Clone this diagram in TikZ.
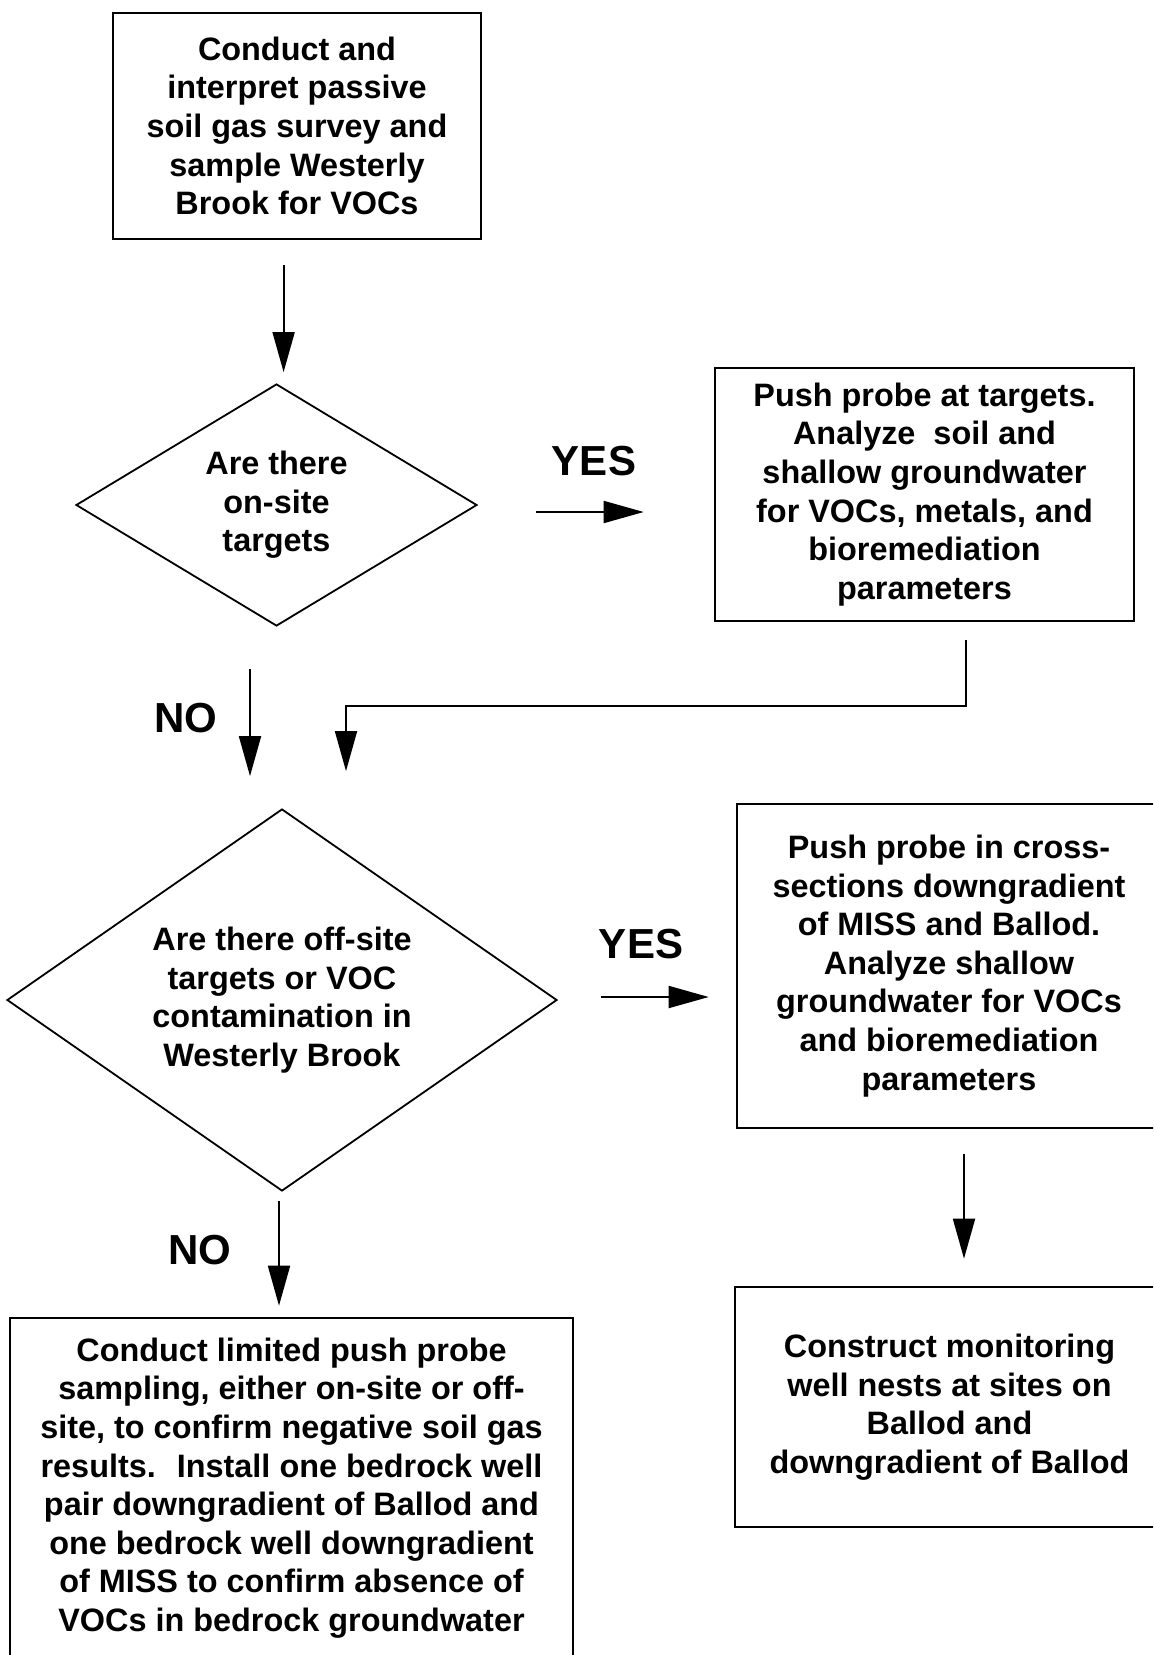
\documentclass[tikz,border=0pt]{standalone}
\usepackage{fontspec}
\setmainfont{Liberation Sans}
\usetikzlibrary{shapes.geometric,arrows.meta}
\newcommand{\bodyfnt}{\fontsize{16.2pt}{19.3pt}\selectfont\bfseries}
\newcommand{\lblfnt}{\fontsize{21pt}{24pt}\selectfont\bfseries}
\tikzset{
  stepbox/.style={draw, line width=1.3pt, align=center, inner sep=0pt, font=\bodyfnt},
  decide/.style={draw, diamond, line width=0.9pt, align=center, inner sep=0pt, font=\bodyfnt},
  arr/.style={line width=0.9pt, -{Triangle[length=20pt,width=11pt]}},
  lbl/.style={font=\lblfnt, inner sep=0pt}
}
\begin{document}
\begin{tikzpicture}[x=0.5pt,y=-0.5pt]
\useasboundingbox (0,0) rectangle (1153,1655);
\clip (0,0) rectangle (1153,1655);
\fill[white] (0,0) rectangle (1153,1655);

\node[stepbox, minimum width=184pt, minimum height=113pt] (b1) at (297,126)
  {Conduct and\\interpret passive\\soil gas survey and\\sample Westerly\\Brook for VOCs};

\node[decide, minimum width=200.5pt, minimum height=121pt, aspect=1.65] (d1) at (276.5,505)
  {Are there\\on-site\\targets};

\node[stepbox, minimum width=209.5pt, minimum height=126.5pt] (b2) at (924.5,494.5)
  {Push probe at targets.\\Analyze~ soil and\\shallow groundwater\\for VOCs, metals, and\\bioremediation\\parameters};

\node[decide, minimum width=275pt, minimum height=191pt, aspect=1.44] (d2) at (282,1000)
  {Are there off-site\\targets or VOC\\contamination in\\Westerly Brook};

\node[stepbox, minimum width=212pt, minimum height=162pt] (b3) at (949,966)
  {Push probe in cross-\\sections downgradient\\of MISS and Ballod.\\Analyze shallow\\groundwater for VOCs\\and bioremediation\\parameters};

\node[stepbox, minimum width=214.5pt, minimum height=120pt] (b4) at (949.5,1407)
  {Construct monitoring\\well nests at sites on\\Ballod and\\downgradient of Ballod};

\node[stepbox, minimum width=281.5pt, minimum height=170pt] (b5) at (291.5,1488)
  {Conduct limited push probe\\sampling, either on-site or off-\\site, to confirm negative soil gas\\results.~ Install one bedrock well\\pair downgradient of Ballod and\\one bedrock well downgradient\\of MISS to confirm absence of\\VOCs in bedrock groundwater};

% labels
\node[lbl] (yes1) at (594,461) {YES};
\node[lbl] (no1) at (186,718) {NO};
\node[lbl] (yes2) at (641,944) {YES};
\node[lbl] (no2) at (200,1250) {NO};

% connectors
\draw[arr, shorten <=12.5pt, shorten >=5.5pt] ([xshift=-6.7pt]b1.south) -- ([xshift=-6.7pt]b1.south |- d1.north);
\draw[arr, shorten <=29pt, shorten >=35pt] (d1.east |- 0,512) -- (b2.west |- 0,512);
\draw[arr, shorten <=21pt, shorten >=16pt] ([xshift=-13.25pt]d1.south) -- ([xshift=-13.25pt]d1.south |- d2.north);
\coordinate (elb1) at (966,706);
\coordinate (elb2) at (346,706);
\draw[arr, shorten <=9pt, shorten >=18.5pt, line join=miter] (b2.south -| elb1) -- (elb1) -- (elb2) -- (elb2 |- d2.north);
\draw[arr, shorten <=21.5pt, shorten >=13.5pt] (d2.east |- 0,997) -- (b3.west |- 0,997);
\draw[arr, shorten <=12.5pt, shorten >=13.5pt] (b3.south -| 964,0) -- (b4.north -| 964,0);
\draw[arr, shorten <=4.5pt, shorten >=5.5pt] ([xshift=-1.5pt]d2.south) -- ([xshift=-1.5pt]d2.south |- b5.north);
\end{tikzpicture}
\end{document}
